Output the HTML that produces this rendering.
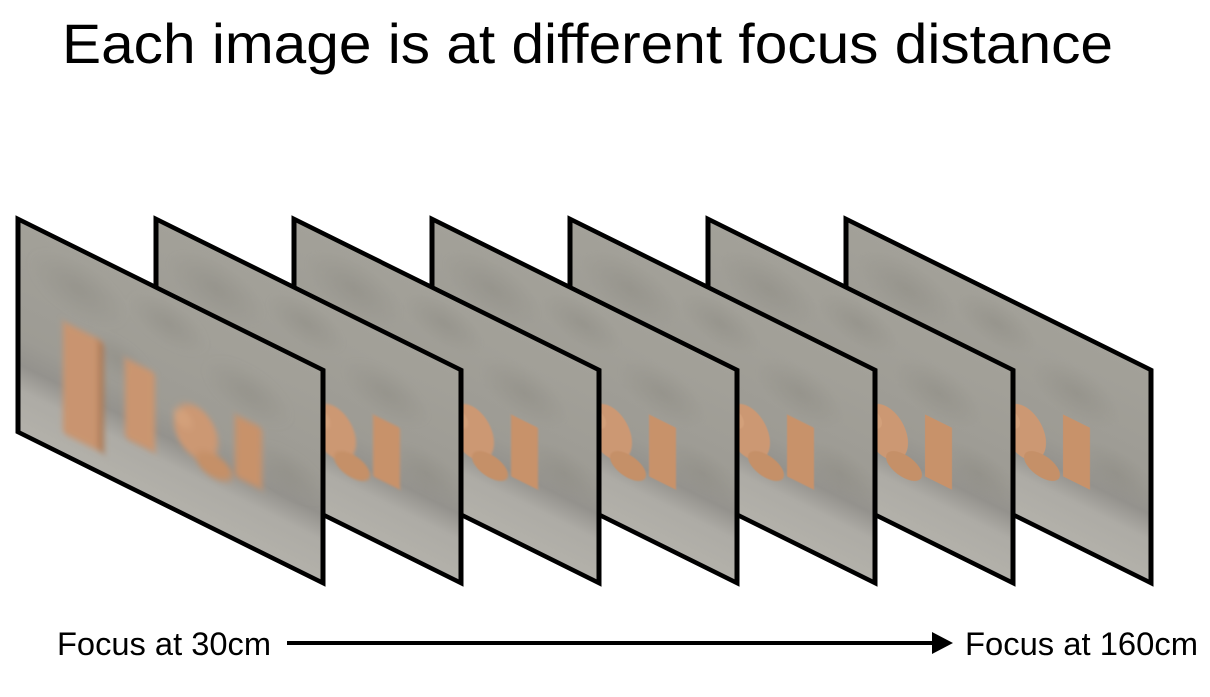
<!DOCTYPE html>
<html>
<head>
<meta charset="utf-8">
<style>
  html,body{margin:0;padding:0;background:#fff;}
  body{width:1210px;height:697px;overflow:hidden;font-family:"Liberation Sans",sans-serif;}
  svg{display:block;}
</style>
</head>
<body>
<svg id="fig" width="1210" height="697" viewBox="0 0 1210 697">
  <defs>
    <linearGradient id="bg" x1="0" y1="0" x2="0" y2="1">
      <stop offset="0" stop-color="#a3a199"/>
      <stop offset="0.55" stop-color="#9d9b94"/>
      <stop offset="0.68" stop-color="#94928d"/>
      <stop offset="0.8" stop-color="#adaba5"/>
      <stop offset="1" stop-color="#b3b1aa"/>
    </linearGradient>
    <radialGradient id="mottle" cx="0.5" cy="0.5" r="0.5">
      <stop offset="0" stop-color="#8a8880" stop-opacity="0.45"/>
      <stop offset="1" stop-color="#8a8880" stop-opacity="0"/>
    </radialGradient>
  </defs>
  <text x="62" y="63" font-size="56" textLength="1051" lengthAdjust="spacingAndGlyphs" fill="#000" font-family="Liberation Sans, sans-serif">Each image is at different focus distance</text>
  <g id="frames"></g>
  <line x1="287" y1="643" x2="935" y2="643" stroke="#000" stroke-width="4"/>
  <polygon points="932,632 953,643 932,654" fill="#000"/>
  <text x="57" y="655" font-size="32" textLength="214" lengthAdjust="spacingAndGlyphs" fill="#000">Focus at 30cm</text>
  <text x="965" y="655" font-size="32" textLength="233" lengthAdjust="spacingAndGlyphs" fill="#000">Focus at 160cm</text>
</svg>
<script>
// frame data: focus distance (cm) per image and relative blur amount
const focusCm = [30, 50, 70, 90, 110, 135, 160];
const blurs = [3.2, 1.4, 0.9, 0.6, 0.4, 0.3, 0.2];

const NS = "http://www.w3.org/2000/svg";
const frames = document.getElementById('frames');
const defs = document.querySelector('defs');
const X0 = 18, DX = 138, Y0 = 219, W = 305, H = 213, SLOPE = 0.495;

function mk(tag, attrs, parent){
  const e = document.createElementNS(NS, tag);
  for (const k in attrs) e.setAttribute(k, attrs[k]);
  parent.appendChild(e);
  return e;
}

for (let i = focusCm.length - 1; i >= 0; i--) {
  const x = X0 + i * DX;
  const f = mk('filter', {id: 'blur' + i, x: '-20%', y: '-20%', width: '140%', height: '140%'}, defs);
  mk('feGaussianBlur', {stdDeviation: blurs[i]}, f);
  const cp = mk('clipPath', {id: 'clip' + i}, defs);
  mk('rect', {x: 0, y: 0, width: W, height: H}, cp);

  const g = mk('g', {transform: `matrix(1,${SLOPE},0,1,${x},${Y0})`}, frames);
  
  
  const inner = mk('g', {'clip-path': `url(#clip${i})`}, g);
  mk('rect', {x: 0, y: 0, width: W, height: H, fill: 'url(#bg)'}, inner);
  const sc = mk('g', {filter: `url(#blur${i})`}, inner);
  [[60,40,50],[150,30,40],[230,60,45],[100,90,35],[270,120,40]].forEach(m=>{
    mk('ellipse', {cx: m[0], cy: m[1], rx: m[2], ry: m[2]*0.6, fill: 'url(#mottle)'}, sc);
  });
  mk('rect', {x: 45, y: 80, width: 40, height: 112, fill: '#c99470'}, sc);
  mk('rect', {x: 80, y: 82, width: 6, height: 110, fill: '#ad7d5a'}, sc);
  mk('rect', {x: 107, y: 86, width: 30, height: 80, fill: '#ca9570'}, sc);
  mk('ellipse', {cx: 178, cy: 125, rx: 22, ry: 26, fill: '#cc9873'}, sc);
  mk('ellipse', {cx: 196, cy: 150, rx: 18, ry: 12, fill: '#c59068'}, sc);
  mk('circle', {cx: 165, cy: 118, r: 9, fill: '#d3a07a'}, sc);
  mk('rect', {x: 217, y: 88, width: 27, height: 62, fill: '#c8926b'}, sc);

  const border = mk('rect', {x: 0, y: 0, width: W, height: H, fill: 'none', stroke: '#000', 'stroke-width': 5}, g);
  
  
}
</script>
</body>
</html>
